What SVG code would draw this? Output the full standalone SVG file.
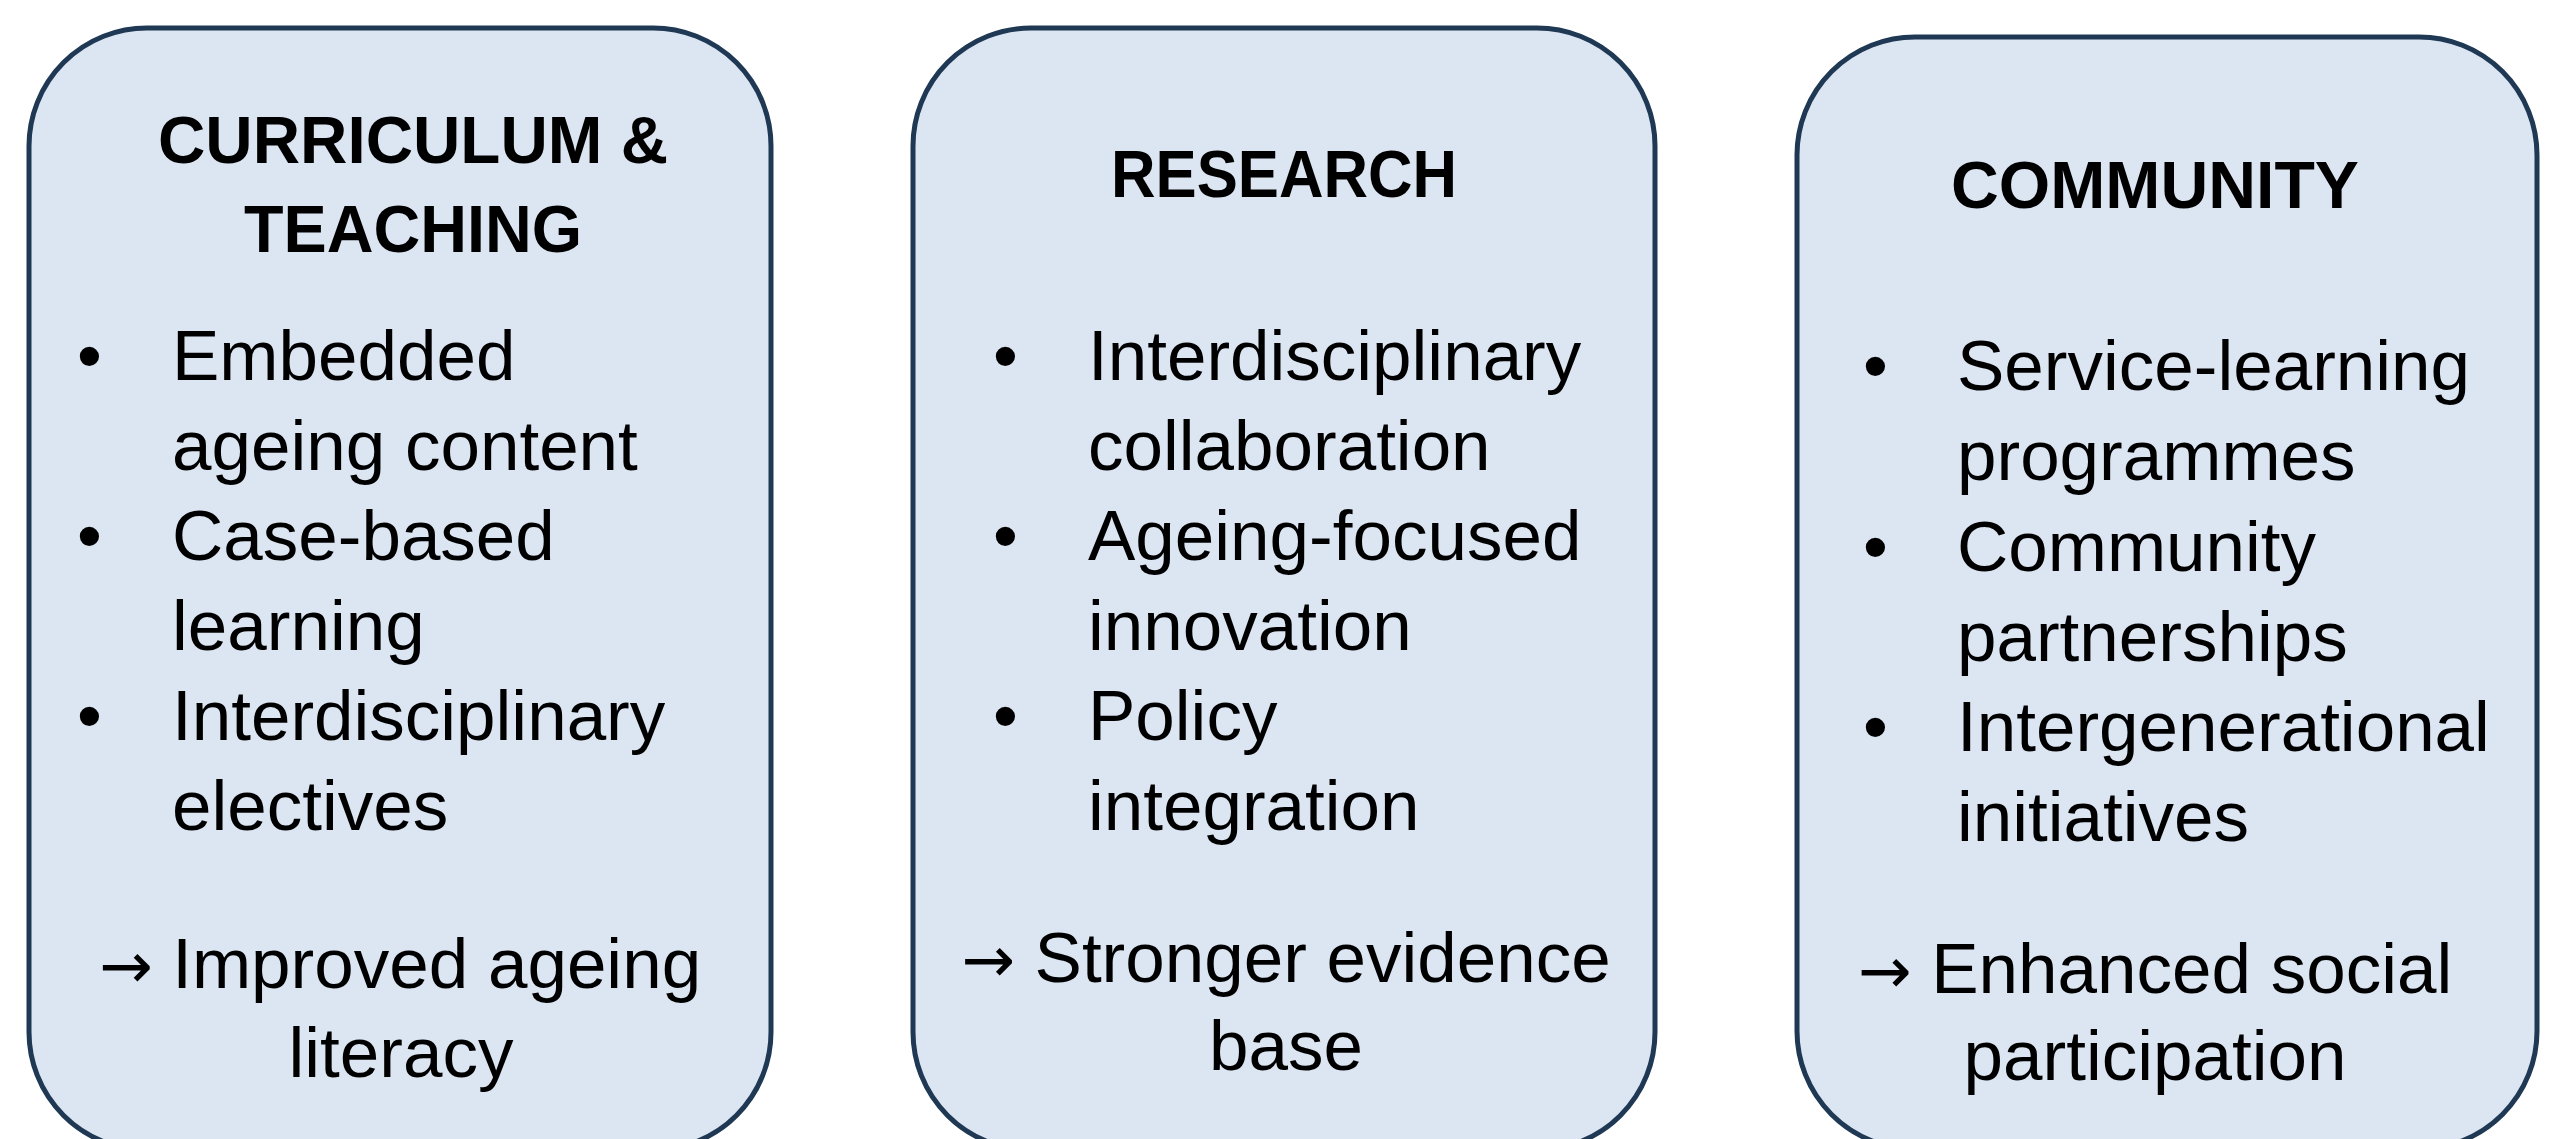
<svg xmlns="http://www.w3.org/2000/svg" width="2566" height="1139" viewBox="0 0 2566 1139">
  <style>
    .box { fill: #DCE5F2; stroke: #1F3854; stroke-width: 5; }
    .title { font-family: "Liberation Sans", Arial, sans-serif; font-weight: bold; font-size: 67px; fill: #000; text-anchor: middle; }
    .body { font-family: "Liberation Sans", Arial, sans-serif; font-size: 71px; fill: #000; }
    .out { font-family: "Liberation Sans", Arial, sans-serif; font-size: 71px; fill: #000; text-anchor: middle; }
    .arr { font-family: "DejaVu Sans", sans-serif; font-size: 64px; }
  </style>
  <rect width="2566" height="1139" fill="#FFFFFF"/>

  <g id="node-curriculum">
    <rect class="box" x="29" y="28" width="742" height="1122" rx="118" ry="118"/>
    <text class="title" x="413" y="163" textLength="510" lengthAdjust="spacingAndGlyphs">CURRICULUM &amp;</text>
    <text class="title" x="413" y="252" textLength="338" lengthAdjust="spacingAndGlyphs">TEACHING</text>
    <text class="body" x="77" y="380">•</text>
    <text class="body" x="172" y="380">Embedded</text>
    <text class="body" x="172" y="470">ageing content</text>
    <text class="body" x="77" y="560">•</text>
    <text class="body" x="172" y="560">Case-based</text>
    <text class="body" x="172" y="650">learning</text>
    <text class="body" x="77" y="740">•</text>
    <text class="body" x="172" y="740">Interdisciplinary</text>
    <text class="body" x="172" y="830">electives</text>
    <text class="out" x="400" y="988"><tspan class="arr">→</tspan> Improved ageing</text>
    <text class="out" x="401" y="1077">literacy</text>
  </g>

  <g id="node-research">
    <rect class="box" x="913" y="28" width="742" height="1122" rx="118" ry="118"/>
    <text class="title" x="1284" y="197" textLength="346" lengthAdjust="spacingAndGlyphs">RESEARCH</text>
    <text class="body" x="993" y="380">•</text>
    <text class="body" x="1088" y="380">Interdisciplinary</text>
    <text class="body" x="1088" y="470">collaboration</text>
    <text class="body" x="993" y="560">•</text>
    <text class="body" x="1088" y="560">Ageing-focused</text>
    <text class="body" x="1088" y="650">innovation</text>
    <text class="body" x="993" y="740">•</text>
    <text class="body" x="1088" y="740">Policy</text>
    <text class="body" x="1088" y="830">integration</text>
    <text class="out" x="1286" y="982"><tspan class="arr">→</tspan> Stronger evidence</text>
    <text class="out" x="1286" y="1070">base</text>
  </g>

  <g id="node-community">
    <rect class="box" x="1797" y="37" width="740" height="1112" rx="118" ry="118"/>
    <text class="title" x="2155" y="208" textLength="408" lengthAdjust="spacingAndGlyphs">COMMUNITY</text>
    <text class="body" x="1863" y="390">•</text>
    <text class="body" x="1957" y="390">Service-learning</text>
    <text class="body" x="1957" y="480">programmes</text>
    <text class="body" x="1863" y="571">•</text>
    <text class="body" x="1957" y="571">Community</text>
    <text class="body" x="1957" y="661">partnerships</text>
    <text class="body" x="1863" y="751">•</text>
    <text class="body" x="1957" y="751">Intergenerational</text>
    <text class="body" x="1957" y="841">initiatives</text>
    <text class="out" x="2155" y="993"><tspan class="arr">→</tspan> Enhanced social</text>
    <text class="out" x="2155" y="1080">participation</text>
  </g>

  <g id="connectors"></g>
</svg>
